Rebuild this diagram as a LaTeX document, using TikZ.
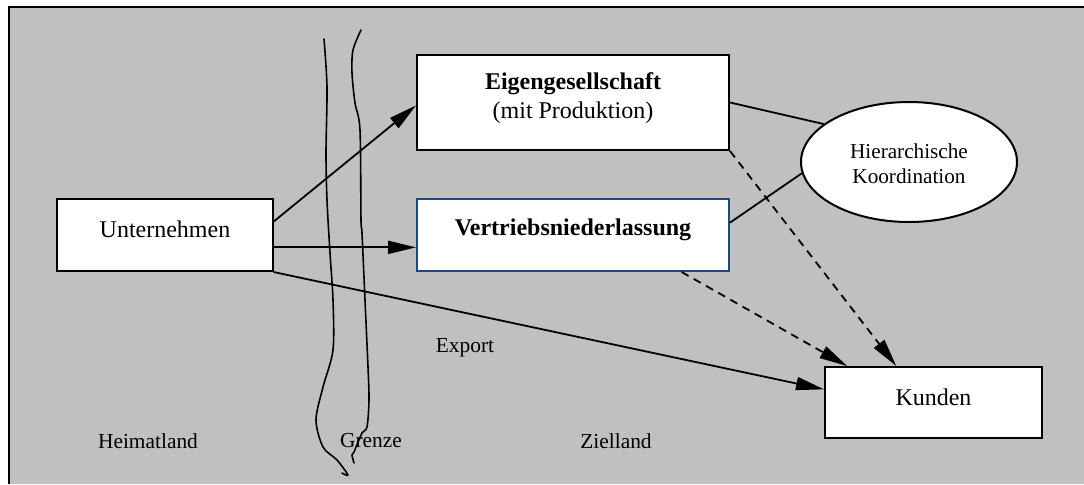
\documentclass[tikz,border=0pt]{standalone}
\usepackage{fontspec}
\setmainfont{Liberation Serif}
\usetikzlibrary{arrows.meta,calc,shapes.geometric}
\definecolor{bggray}{RGB}{192,192,192}
\definecolor{frameblue}{RGB}{31,73,125}
\begin{document}
\begin{tikzpicture}[x=0.5pt,y=-0.5pt,
  box/.style={draw=black, line width=1pt, fill=white, rectangle, inner sep=0pt},
  hier/.style={draw, line width=1pt, fill=white, ellipse, inner sep=0pt,
    minimum width=108pt, minimum height=60pt},
  arr/.style={line width=0.9pt, -{Triangle[length=14pt,width=6.5pt]}},
  dasharr/.style={arr, dash pattern=on 4pt off 3pt},
  link/.style={line width=0.9pt},
  border/.style={line width=0.8pt, line join=round, line cap=round},
  region/.style={font=\fontsize{10.7}{12}\selectfont},
  txt/.style={font=\fontsize{12}{14.5}\selectfont, align=center},
  small/.style={font=\fontsize{10.6}{12.5}\selectfont, align=center}
]
\useasboundingbox (0,0) rectangle (1084,484);
% background panel with its top and left rule
\fill[bggray] (8,6) rectangle (1084,484);
\draw[line width=1pt] (8.5,484) -- (8.5,6.5) -- (1084,6.5);

% the border between the two countries
\draw[border] plot[smooth, tension=0.5] coordinates {
  (324,39) (327,87) (326,153) (327,200) (330,253) (333,300) (333,350)
  (323,387) (316,420) (323,447) (337,460) (348,475) (342,473)};
\draw[border] plot[smooth, tension=0.5] coordinates {
  (361,30) (353,50) (352,73) (355,103) (360,130) (361,220) (362,233)
  (365,300) (368,367) (369,400) (367,427) (362,433) (354,452) (352,455) (354,463)};

% boxes
\node[box, minimum width=108pt, minimum height=36pt] (u) at (164.5,235) {};
\node[txt] (ut) at (165,229) {Unternehmen};
\node[box, minimum width=156pt, minimum height=47.5pt] (e) at (573,102.5) {};
\node[txt] (et) at (573,98) {\textbf{Eigengesellschaft}\\(mit Produktion)};
\node[box, draw=frameblue, minimum width=156pt, minimum height=36pt] (v) at (573,235) {};
\node[txt] (vt) at (573,230) {\textbf{Vertriebsniederlassung}};
\node[box, minimum width=108.5pt, minimum height=35.5pt] (k) at (933.5,402.5) {};
\node[txt] (kt) at (933.5,397) {Kunden};
\node[hier] (h) at (909,162) {};
\node[small] (ht) at (909,164) {Hierarchische\\Koordination};

% region labels
\node[region] (export) at (465,348) {Export};
\node[region] (heimat) at (148,441) {Heimatland};
\node[region] (grenze) at (371,441) {Grenze};
\node[region] (ziel) at (616,441) {Zielland};

% connectors
\draw[arr] ($(u.north east)!0.32!(u.south east)$) -- ($(e.north west)!0.53!(e.south west)$);
\draw[arr] ($(u.north east)!0.667!(u.south east)$) -- ($(v.north west)!0.667!(v.south west)$);
\draw[arr] (u.south east) -- ($(k.north west)!0.32!(k.south west)$);
\draw[dasharr] (e.south east) -- ($(k.north west)!0.33!(k.north east)$);
\draw[dasharr] ($(v.south west)!0.846!(v.south east)$) -- ($(k.north west)!0.106!(k.north east)$);
\draw[link] (e.east) -- (h.156);
\draw[link] ($(v.north east)!0.333!(v.south east)$) -- (h.186);
\end{tikzpicture}
\end{document}
